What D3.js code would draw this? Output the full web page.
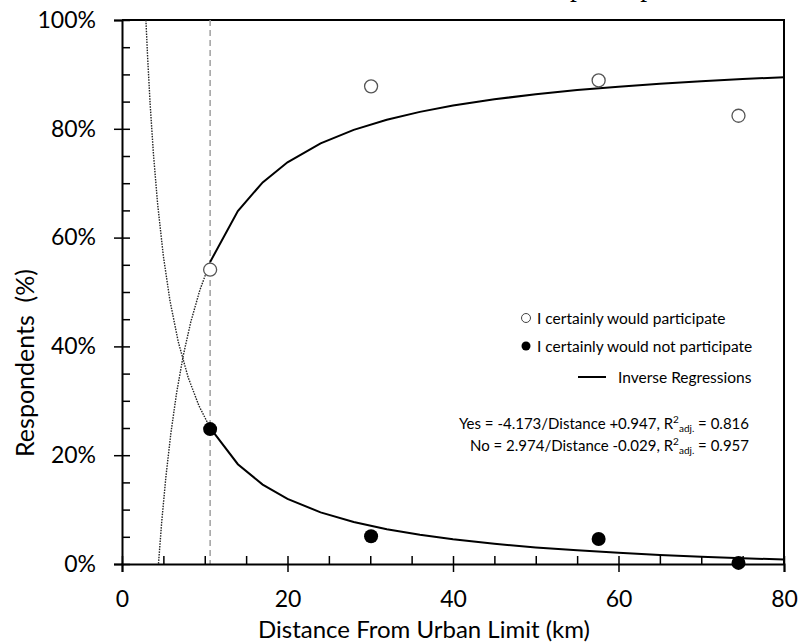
<!DOCTYPE html>
<html>
<head>
<meta charset="utf-8">
<script src="https://cdn.jsdelivr.net/npm/d3@7"></script>
<style>
  body { margin: 0; background: #fff; }
  #wrapper { width: 799px; height: 642px; }
</style>
</head>
<body>
<div id="wrapper"></div>
<script>
// survey points, distance in km, share in %
const distances = [10.65, 30.1, 57.6, 74.5]
const yesPct = [54.1, 87.8, 88.9, 82.4]
const noPct = [24.8, 5.1, 4.6, 0.2]

// inverse regressions printed on the chart: y = a / Distance + b
const yesCoef = [-4.173, 0.947]
const noCoef = [2.974, -0.029]
const fitDistances = [10.65, 14, 17, 20, 24, 28, 32, 36, 40, 45, 50, 55, 60, 65, 70, 75, 80]
const yesDotDistances = [4.41, 4.8, 5.3, 5.9, 6.6, 7.4, 8.3, 9.4, 10.65]
const noDotDistances = [2.89, 3.1, 3.4, 3.8, 4.3, 5, 5.8, 6.8, 8, 9.3, 10.65]
const cutoffDistance = 10.65

const xTicks = [0, 20, 40, 60, 80]
const yTicks = [0, 20, 40, 60, 80, 100]
const legendLabels = ['I certainly would participate', 'I certainly would not participate', 'Inverse Regressions']

function renderChart() {
    const dimensions = {
        width: 799,
        height: 642,
        margins: { top: 20, right: 15, bottom: 78, left: 122 }
    }
    dimensions.boundedWidth = dimensions.width - dimensions.margins.left - dimensions.margins.right
    dimensions.boundedHeight = dimensions.height - dimensions.margins.top - dimensions.margins.bottom

    const wrapper = d3.select('#wrapper')
        .append('svg')
        .attr('width', dimensions.width)
        .attr('height', dimensions.height)
        .style('font-family', 'Lato, sans-serif')

    // title sits above the page, only the descenders of its p's show
    wrapper.append('text')
        .attr('x', 686)
        .attr('y', -4.5)
        .attr('text-anchor', 'end')
        .style('font-family', '"Liberation Serif", serif')
        .style('font-size', '27.5px')
        .text('Intention to participate')

    const bounds = wrapper.append('g')
        .attr('transform', `translate(${dimensions.margins.left}, ${dimensions.margins.top})`)

    const xScale = d3.scaleLinear().domain([0, 80]).range([0, dimensions.boundedWidth])
    const yScale = d3.scaleLinear().domain([0, 100]).range([dimensions.boundedHeight, 0])

    bounds.append('clipPath').attr('id', 'plotClip')
        .append('rect')
        .attr('width', dimensions.boundedWidth)
        .attr('height', dimensions.boundedHeight)

    // frame top and right
    bounds.append('path')
        .attr('d', `M0,0H${dimensions.boundedWidth}V${dimensions.boundedHeight}`)
        .attr('fill', 'none')
        .attr('stroke', 'black')
        .attr('stroke-width', 2)

    // dashed cut-off line
    bounds.append('line')
        .attr('x1', xScale(cutoffDistance))
        .attr('x2', xScale(cutoffDistance))
        .attr('y1', 0)
        .attr('y2', dimensions.boundedHeight)
        .attr('stroke', '#a0a0a0')
        .attr('stroke-width', 1.5)
        .attr('stroke-dasharray', '6,4')

    const plot = bounds.append('g').attr('clip-path', 'url(#plotClip)')

    const inverse = coef => d => (coef[0] / d + coef[1]) * 100
    const lineGenerator = f => d3.line()
        .x(d => xScale(d))
        .y(d => yScale(f(d)))

    plot.append('path')
        .attr('d', lineGenerator(inverse(yesCoef))(yesDotDistances))
        .attr('fill', 'none').attr('stroke', '#222').attr('stroke-width', 1.4)
        .attr('stroke-dasharray', '1.5,1.2')
    plot.append('path')
        .attr('d', lineGenerator(inverse(noCoef))(noDotDistances))
        .attr('fill', 'none').attr('stroke', '#222').attr('stroke-width', 1.4)
        .attr('stroke-dasharray', '1.5,1.2')

    plot.append('path')
        .attr('d', lineGenerator(inverse(yesCoef))(fitDistances))
        .attr('fill', 'none').attr('stroke', 'black').attr('stroke-width', 2)
    plot.append('path')
        .attr('d', lineGenerator(inverse(noCoef))(fitDistances))
        .attr('fill', 'none').attr('stroke', 'black').attr('stroke-width', 2)

    // points
    bounds.append('g').selectAll('circle')
        .data(distances)
        .join('circle')
        .attr('cx', d => xScale(d))
        .attr('cy', (d, i) => yScale(yesPct[i]))
        .attr('r', 6.5)
        .attr('fill', 'white')
        .attr('stroke', '#555')
        .attr('stroke-width', 1.3)
    bounds.append('g').selectAll('circle')
        .data(distances)
        .join('circle')
        .attr('cx', d => xScale(d))
        .attr('cy', (d, i) => yScale(noPct[i]))
        .attr('r', 7)
        .attr('fill', 'black')

    // axes: majors cross the line, minors point inward
    const styleAxis = g => {
        g.select('.domain').attr('stroke-width', 2)
        g.selectAll('.tick line').attr('stroke-width', 1.5)
        g.selectAll('text').style('font-family', 'Lato, sans-serif').style('font-size', '23px').attr('fill', 'black')
    }

    const yMinor = d3.range(0, 101, 5)
    const xMinor = d3.range(0, 81, 5)

    bounds.append('g')
        .call(d3.axisLeft(yScale).tickValues(yTicks).tickSize(8).tickPadding(18).tickFormat(d => d + '%'))
        .call(styleAxis)
    bounds.append('g')
        .call(d3.axisRight(yScale).tickValues(yMinor).tickSize(8).tickFormat(''))
        .call(styleAxis)
        .call(g => g.select('.domain').remove())

    bounds.append('g')
        .attr('transform', `translate(0, ${dimensions.boundedHeight})`)
        .call(d3.axisBottom(xScale).tickValues(xTicks).tickSize(8).tickPadding(19))
        .call(styleAxis)
    bounds.append('g')
        .attr('transform', `translate(0, ${dimensions.boundedHeight})`)
        .call(d3.axisTop(xScale).tickValues(xMinor).tickSize(8).tickFormat(''))
        .call(styleAxis)
        .call(g => g.select('.domain').remove())

    // axis titles
    wrapper.append('text')
        .attr('x', 424)
        .attr('y', 638)
        .attr('text-anchor', 'middle')
        .style('font-size', '24px')
        .text('Distance From Urban Limit (km)')
    wrapper.append('text')
        .attr('transform', `translate(34, 363) rotate(-90)`)
        .attr('text-anchor', 'middle')
        .style('font-size', '25px')
        .style('white-space', 'pre')
        .text('Respondents  (%)')

    // legend
    const legend = wrapper.append('g').style('font-size', '15.5px')
    legend.append('circle').attr('cx', 526).attr('cy', 318).attr('r', 4.5)
        .attr('fill', 'white').attr('stroke', '#444').attr('stroke-width', 1)
    legend.append('text').attr('x', 537).attr('y', 323.5).text(legendLabels[0])
    legend.append('circle').attr('cx', 526).attr('cy', 346).attr('r', 4.5).attr('fill', 'black')
    legend.append('text').attr('x', 537).attr('y', 351.5).text(legendLabels[1])
    legend.append('line').attr('x1', 578).attr('x2', 606).attr('y1', 377).attr('y2', 377)
        .attr('stroke', 'black').attr('stroke-width', 2)
    legend.append('text').attr('x', 618).attr('y', 382.5).text(legendLabels[2])

    const eq = (name, coef, r2, y) => {
        const a = coef[0].toFixed(3)
        const b = (coef[1] >= 0 ? '+' : '') + coef[1].toFixed(3)
        const t = legend.append('text').attr('x', 749).attr('y', y).attr('text-anchor', 'end').style('font-size', '15px')
        t.append('tspan').text(`${name} = ${a}/Distance ${b}, R`)
        t.append('tspan').attr('dy', -6).style('font-size', '10px').text('2')
        t.append('tspan').attr('dy', 9).style('font-size', '10px').text('adj.')
        t.append('tspan').attr('dy', -3).text(` = ${r2}`)
    }
    eq('Yes', yesCoef, '0.816', 429)
    eq('No', noCoef, '0.957', 451)
}

renderChart()
</script>
</body>
</html>
